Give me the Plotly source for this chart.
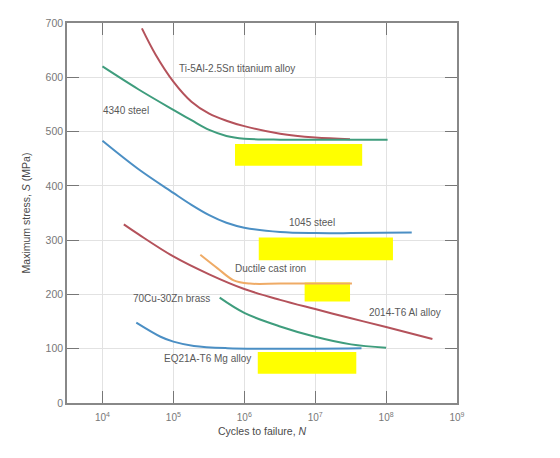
"""S-N fatigue curves for several alloys, redrawn with Plotly."""

import plotly.graph_objects as go

# Cycles to failure (N) and maximum stress (MPa) for each curve
ti_n = [3.6e4, 5.6e4, 1e5, 1.8e5, 3.2e5, 5.6e5, 1e6, 3.2e6, 1e7, 3.1e7]
ti_s = [690, 642, 592, 555, 533, 520, 510, 496, 489, 486]

s4340_n = [1e4, 3.2e4, 1e5, 1.8e5, 3.2e5, 5.6e5, 1e6, 3.2e6, 1e7, 1.05e8]
s4340_s = [620, 578, 540, 521, 503, 492, 487, 485, 485, 485]

s1045_n = [1e4, 3.2e4, 1e5, 1.8e5, 3.2e5, 5.6e5, 1e6, 3.2e6, 1e7, 3.2e7, 2.3e8]
s1045_s = [483, 431, 387, 365, 346, 332, 323, 315, 313, 313, 314]

al_n = [2.0e4, 3.2e4, 1e5, 3.2e5, 1e6, 3.2e6, 1e7, 3.2e7, 1e8, 4.5e8]
al_s = [329, 311, 270, 237, 210, 190, 173, 156, 140, 118]

iron_n = [2.4e5, 4.2e5, 7.1e5, 1.2e6, 3.2e6, 3.3e7]
iron_s = [273, 248, 226, 220, 220, 220]

brass_n = [4.5e5, 1e6, 3.2e6, 1e7, 3.2e7, 1e8]
brass_s = [194, 166, 141, 122, 108, 102]

mg_n = [3.0e4, 6.6e4, 1e5, 1.95e5, 5.8e5, 3.2e6, 4.5e7]
mg_s = [148, 122, 113, 105, 101, 100, 101]

# curve labels: text, x (log10 N), y (MPa)
label_text = ["Ti-5Al-2.5Sn titanium alloy", "4340 steel", "1045 steel",
              "Ductile cast iron", "70Cu-30Zn brass", "2014-T6 Al alloy",
              "EQ21A-T6 Mg alloy"]
label_x = [5.9, 4.33, 6.95, 6.37, 4.97, 8.26, 5.48]
label_y = [616, 538, 333, 247, 192, 167, 82]

# yellow marker boxes: N0, N1, S0, S1
boxes = [(7.4e5, 4.6e7, 437, 477),
         (1.6e6, 1.25e8, 263, 305),
         (7.1e6, 3.1e7, 187, 222),
         (1.55e6, 3.8e7, 54, 94)]

RED = "#b4525b"
GREEN = "#3f9d7d"
BLUE = "#4b8fc4"
ORANGE = "#efab66"
FONT = "Liberation Sans, Arial"

fig = go.Figure()

for bx in boxes:
    fig.add_trace(go.Scatter(
        x=[bx[0], bx[1], bx[1], bx[0], bx[0]],
        y=[bx[2], bx[2], bx[3], bx[3], bx[2]],
        mode="lines", fill="toself", fillcolor="#ffff00",
        line=dict(width=0, color="#ffff00"), showlegend=False, hoverinfo="skip"))

curves = [(ti_n, ti_s, RED), (s4340_n, s4340_s, GREEN), (s1045_n, s1045_s, BLUE),
          (al_n, al_s, RED), (iron_n, iron_s, ORANGE), (brass_n, brass_s, GREEN),
          (mg_n, mg_s, BLUE)]
for n, s, col in curves:
    fig.add_trace(go.Scatter(x=n, y=s, mode="lines",
                             line=dict(color=col, width=2, shape="spline", smoothing=1.0),
                             showlegend=False))

for t, lx, ly in zip(label_text, label_x, label_y):
    fig.add_annotation(x=lx, y=ly, text=t, showarrow=False,
                       font=dict(family=FONT, size=10, color="#595959"))

fig.update_xaxes(type="log", range=[3.5, 9],
                 tickvals=[1e4, 1e5, 1e6, 1e7, 1e8, 1e9],
                 ticktext=["10<sup>4</sup>", "10<sup>5</sup>", "10<sup>6</sup>",
                           "10<sup>7</sup>", "10<sup>8</sup>", "10<sup>9</sup>"],
                 ticks="inside", ticklen=12, tickcolor="#777777", tickwidth=1,
                 showline=True, linecolor="#888888", linewidth=1.5, mirror="ticks",
                 showgrid=True, gridcolor="#e2e2e2", gridwidth=1, zeroline=False,
                 ticklabelstandoff=4,
                 tickfont=dict(family=FONT, size=10, color="#777777"),
                 title=dict(text="Cycles to failure, <i>N</i>", standoff=6,
                            font=dict(family=FONT, size=10.5, color="#4a4a4a")))
fig.update_yaxes(range=[0, 700], tickvals=[0, 100, 200, 300, 400, 500, 600, 700],
                 ticks="inside", ticklen=12, tickcolor="#777777", tickwidth=1,
                 showline=True, linecolor="#888888", linewidth=1.5, mirror="ticks",
                 showgrid=True, gridcolor="#e2e2e2", gridwidth=1, zeroline=False,
                 tickfont=dict(family=FONT, size=10.5, color="#777777"),
                 title=dict(text="Maximum stress, <i>S</i> (MPa)", standoff=13,
                            font=dict(family=FONT, size=10.5, color="#4a4a4a")))

# page body adds an 8px margin, so the figure is drawn 8px smaller
fig.update_layout(width=552, height=450, margin=dict(l=59, r=103, t=9, b=55),
                  plot_bgcolor="white", paper_bgcolor="white")

fig.write_html("out.html")
